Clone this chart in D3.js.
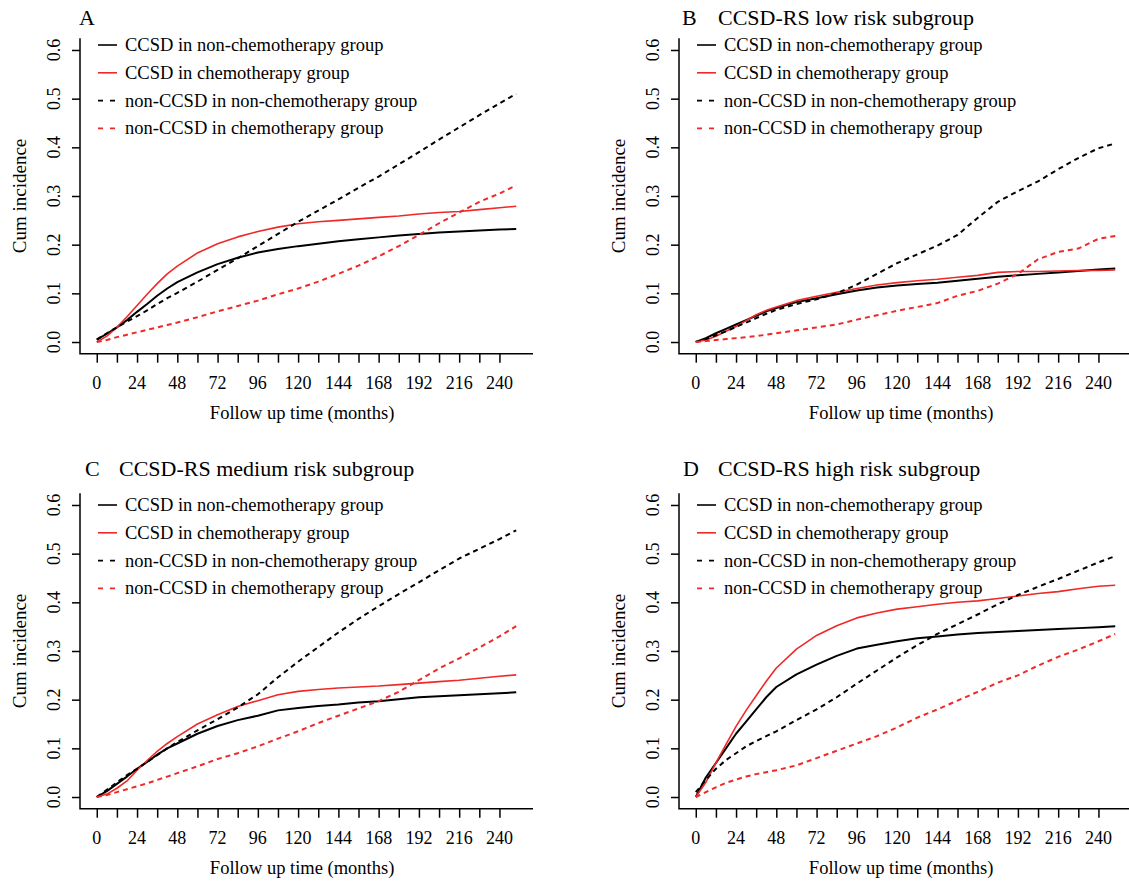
<!DOCTYPE html>
<html lang="en">
<head>
  <meta charset="UTF-8">
  <script src="https://cdn.jsdelivr.net/npm/d3@7"></script>
  <title>Cumulative incidence</title>
  <style>
    body { margin: 0; background: #fff; }
  </style>
</head>
<body>
  <svg width="1129" height="882" id="chart"></svg>
  <script>

  // follow up time (months) at which the curves were read
  const months = [0, 6, 12, 18, 24, 30, 36, 42, 48, 60, 72, 84, 96, 108, 120, 132, 144, 156, 168, 180, 192, 204, 216, 228, 240, 250];

  const xTicks = d3.range(0, 241, 12);
  const xLabels = d3.range(0, 241, 24);
  const yTicks = [0, 0.1, 0.2, 0.3, 0.4, 0.5, 0.6];

  const seriesNames = [
    "CCSD in non-chemotherapy group",
    "CCSD in chemotherapy group",
    "non-CCSD in non-chemotherapy group",
    "non-CCSD in chemotherapy group"
  ];
  const panelLetters = ["A", "B", "C", "D"];
  const panelTitles = ["", "CCSD-RS low risk subgroup", "CCSD-RS medium risk subgroup", "CCSD-RS high risk subgroup"];

  // A: all patients
  const A_ccsdNonChemo = [0.005, 0.017, 0.03, 0.045, 0.062, 0.078, 0.095, 0.11, 0.123, 0.143, 0.16, 0.173, 0.184, 0.191, 0.197, 0.202, 0.207, 0.211, 0.215, 0.219, 0.222, 0.225, 0.227, 0.229, 0.231, 0.232];
  const A_ccsdChemo = [0, 0.012, 0.03, 0.052, 0.075, 0.098, 0.12, 0.14, 0.156, 0.183, 0.202, 0.216, 0.227, 0.236, 0.243, 0.247, 0.25, 0.253, 0.256, 0.259, 0.263, 0.266, 0.268, 0.272, 0.276, 0.279];
  const A_nonNonChemo = [0.005, 0.018, 0.03, 0.042, 0.053, 0.065, 0.078, 0.09, 0.101, 0.124, 0.148, 0.172, 0.197, 0.222, 0.247, 0.27, 0.293, 0.317, 0.34, 0.365, 0.39, 0.416, 0.441, 0.466, 0.49, 0.51];
  const A_nonChemo = [0, 0.004, 0.01, 0.015, 0.02, 0.025, 0.03, 0.035, 0.04, 0.051, 0.063, 0.074, 0.085, 0.098, 0.11, 0.124, 0.14, 0.157, 0.176, 0.197, 0.22, 0.244, 0.266, 0.288, 0.305, 0.322];

  // B: low risk
  const B_ccsdNonChemo = [0, 0.008, 0.018, 0.027, 0.036, 0.045, 0.054, 0.063, 0.07, 0.082, 0.09, 0.098, 0.106, 0.112, 0.116, 0.119, 0.122, 0.126, 0.13, 0.134, 0.137, 0.14, 0.143, 0.146, 0.149, 0.151];
  const B_ccsdChemo = [0, 0.004, 0.012, 0.022, 0.032, 0.044, 0.056, 0.065, 0.072, 0.085, 0.094, 0.102, 0.11, 0.117, 0.122, 0.126, 0.129, 0.133, 0.137, 0.143, 0.145, 0.145, 0.146, 0.147, 0.147, 0.148];
  const B_nonNonChemo = [0, 0.006, 0.014, 0.022, 0.031, 0.04, 0.049, 0.058, 0.066, 0.078, 0.088, 0.1, 0.118, 0.14, 0.162, 0.18, 0.198, 0.22, 0.255, 0.288, 0.31, 0.33, 0.355, 0.378, 0.398, 0.408];
  const B_nonChemo = [0, 0.002, 0.004, 0.006, 0.008, 0.01, 0.012, 0.015, 0.018, 0.024, 0.03, 0.036, 0.046, 0.055, 0.064, 0.072, 0.08, 0.095, 0.105, 0.12, 0.14, 0.17, 0.185, 0.192, 0.212, 0.218];

  // C: medium risk
  const C_ccsdNonChemo = [0, 0.012, 0.027, 0.042, 0.058, 0.072, 0.087, 0.1, 0.11, 0.13, 0.146, 0.158, 0.167, 0.178, 0.183, 0.187, 0.19, 0.194, 0.197, 0.201, 0.205, 0.207, 0.209, 0.211, 0.213, 0.215];
  const C_ccsdChemo = [0, 0.006, 0.018, 0.033, 0.055, 0.075, 0.094, 0.11, 0.124, 0.15, 0.169, 0.186, 0.198, 0.21, 0.217, 0.221, 0.224, 0.226, 0.228, 0.231, 0.234, 0.237, 0.24, 0.244, 0.248, 0.251];
  const C_nonNonChemo = [0, 0.015, 0.03, 0.045, 0.058, 0.072, 0.086, 0.1, 0.113, 0.137, 0.16, 0.184, 0.211, 0.246, 0.278, 0.308, 0.338, 0.366, 0.392, 0.417, 0.441, 0.466, 0.49, 0.51, 0.53, 0.548];
  const C_nonChemo = [0, 0.004, 0.01, 0.016, 0.022, 0.028, 0.035, 0.042, 0.049, 0.063, 0.078, 0.09, 0.104, 0.12, 0.135, 0.152, 0.167, 0.182, 0.197, 0.216, 0.24, 0.264, 0.285, 0.307, 0.33, 0.351];

  // D: high risk
  const D_ccsdNonChemo = [0, 0.04, 0.07, 0.1, 0.13, 0.155, 0.18, 0.205, 0.226, 0.252, 0.272, 0.29, 0.305, 0.313, 0.32, 0.326, 0.33, 0.334, 0.337, 0.339, 0.341, 0.343, 0.345, 0.347, 0.349, 0.351];
  const D_ccsdChemo = [0, 0.03, 0.07, 0.108, 0.145, 0.178, 0.208, 0.238, 0.265, 0.304, 0.332, 0.352, 0.368, 0.378, 0.386, 0.391, 0.396, 0.4, 0.403, 0.408, 0.413, 0.418, 0.422, 0.428, 0.433, 0.435];
  const D_nonNonChemo = [0.01, 0.035, 0.058, 0.076, 0.09, 0.104, 0.115, 0.125, 0.135, 0.158, 0.18, 0.205, 0.233, 0.26, 0.287, 0.312, 0.335, 0.355, 0.375, 0.396, 0.415, 0.432, 0.448, 0.465, 0.482, 0.495];
  const D_nonChemo = [0, 0.01, 0.02, 0.029, 0.036, 0.042, 0.047, 0.051, 0.055, 0.065, 0.08, 0.095, 0.11, 0.125, 0.143, 0.163, 0.18, 0.198, 0.216, 0.235, 0.25, 0.27, 0.288, 0.303, 0.32, 0.335];

  const panelData = [
    [A_ccsdNonChemo, A_ccsdChemo, A_nonNonChemo, A_nonChemo],
    [B_ccsdNonChemo, B_ccsdChemo, B_nonNonChemo, B_nonChemo],
    [C_ccsdNonChemo, C_ccsdChemo, C_nonNonChemo, C_nonChemo],
    [D_ccsdNonChemo, D_ccsdChemo, D_nonNonChemo, D_nonChemo]
  ];

  const serif = "'Liberation Serif', 'DejaVu Serif', serif";
  const red = "#f02828";
  const lineStyle = [
    { color: "#000", dash: null, width: 2 },
    { color: red, dash: null, width: 1.6 },
    { color: "#000", dash: "5,4", width: 2 },
    { color: red, dash: "5,4", width: 2 }
  ];

  let svg = d3.select("#chart").style("font-family", serif);
  svg.append("rect").attr("width", 1129).attr("height", 882).attr("fill", "#fff");

  // layout of the 2x2 grid (left edge of the box, top of the box)
  const boxW = 453, boxH = 315.4;
  const colX = [80, 679];
  const rowY = [38.3, 493.3];
  const titleY = [25, 476];
  const legendY = [45, 505];
  const letterShift = [-1, 3, 5, 4];

  function label(sel) {
    return sel.attr("font-family", serif).style("font-family", serif).attr("fill", "#000");
  }

  panelData.forEach((series, i) => {
    let col = i % 2, row = Math.floor(i / 2);
    let left = colX[col], top = rowY[row];

    // 4% padding like R's default axis style
    let scaleX = d3.scaleLinear().domain([-10, 260]).range([left, left + boxW]);
    let scaleY = d3.scaleLinear().domain([-0.024, 0.624]).range([top + boxH, top]);

    let g = svg.append("g");

    /* CURVES */
    series.forEach((values, k) => {
      let line = d3.line()
        .x((d, j) => scaleX(months[j]))
        .y(d => scaleY(d));
      g.append("path")
        .datum(values)
        .attr("d", line)
        .attr("fill", "none")
        .attr("stroke", lineStyle[k].color)
        .attr("stroke-width", lineStyle[k].width)
        .attr("stroke-dasharray", lineStyle[k].dash)
        .attr("stroke-linejoin", "round");
    });

    /* AXES (L-shaped box) */
    g.append("path")
      .attr("d", `M${left},${top}V${top + boxH}H${left + boxW}`)
      .attr("fill", "none")
      .attr("stroke", "#000")
      .attr("stroke-width", 1.5);

    let axisY = d3.axisLeft(scaleY).tickValues(yTicks).tickSize(8).tickFormat("");
    g.append("g").attr("transform", `translate(${left},0)`).call(axisY)
      .call(a => a.select(".domain").remove())
      .call(a => a.selectAll("line").attr("stroke-width", 1.5));

    g.selectAll(".ylab").data(yTicks).enter().append("text")
      .attr("transform", d => `translate(${left - 20},${scaleY(d)}) rotate(-90)`)
      .attr("text-anchor", "middle")
      .style("font-size", "18px")
      .call(label)
      .text(d => d.toFixed(1));

    let axisX = d3.axisBottom(scaleX).tickValues(xTicks).tickSize(9).tickFormat("");
    g.append("g").attr("transform", `translate(0,${top + boxH})`).call(axisX)
      .call(a => a.select(".domain").remove())
      .call(a => a.selectAll("line").attr("stroke-width", 1.5));

    g.selectAll(".xlab").data(xLabels).enter().append("text")
      .attr("x", d => scaleX(d))
      .attr("y", top + boxH + 35)
      .attr("text-anchor", "middle")
      .style("font-size", "18px")
      .call(label)
      .text(d => d);

    g.append("text")
      .attr("x", scaleX(120) + 4)
      .attr("y", top + boxH + 65)
      .attr("text-anchor", "middle")
      .style("font-size", "18.5px")
      .call(label)
      .text("Follow up time (months)");

    g.append("text")
      .attr("transform", `translate(${left - 54},${top + boxH / 2}) rotate(-90)`)
      .attr("text-anchor", "middle")
      .style("font-size", "19px")
      .call(label)
      .text("Cum incidence");

    /* TITLE */
    g.append("text")
      .attr("x", left + letterShift[i])
      .attr("y", titleY[row])
      .style("font-size", "22px")
      .call(label)
      .text(panelLetters[i]);
    g.append("text")
      .attr("x", left + 39)
      .attr("y", titleY[row])
      .style("font-size", "22px")
      .call(label)
      .text(panelTitles[i]);

    /* LEGEND */
    seriesNames.forEach((name, k) => {
      let ly = legendY[row] + k * 27.8;
      g.append("line")
        .attr("x1", left + 18).attr("x2", left + 37)
        .attr("y1", ly).attr("y2", ly)
        .attr("stroke", lineStyle[k].color)
        .attr("stroke-width", 1.6)
        .attr("stroke-dasharray", lineStyle[k].dash ? "5,7" : null);
      g.append("text")
        .attr("x", left + 45)
        .attr("y", ly + 6)
        .style("font-size", "18.5px")
        .call(label)
        .text(name);
    });
  });

  </script>
</body>
</html>
